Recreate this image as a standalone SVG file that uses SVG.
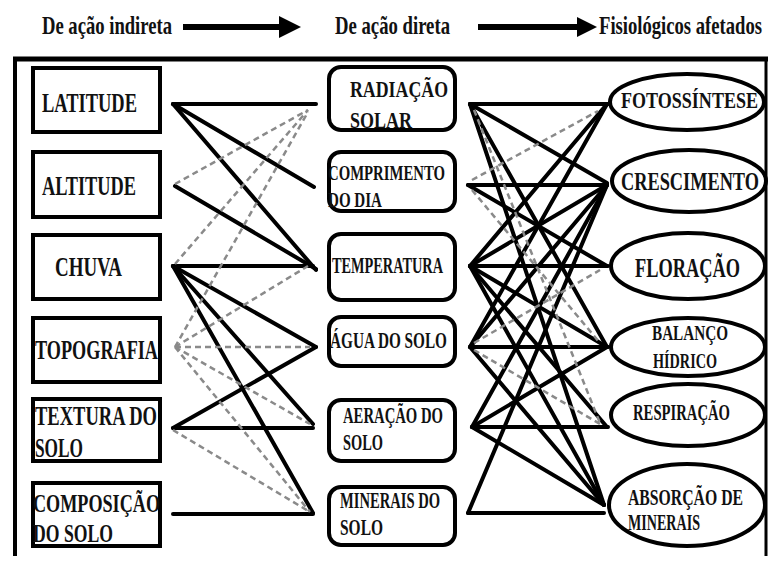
<svg xmlns="http://www.w3.org/2000/svg" width="770" height="561" viewBox="0 0 770 561" font-family="Liberation Serif, Times New Roman, DejaVu Serif, serif" font-weight="bold">
<style>
text{fill:#111}
.box{fill:#fff;stroke:#000;stroke-width:4}
.ell{fill:#fff;stroke:#000;stroke-width:4}
.s{stroke:#000;stroke-width:4;fill:none;stroke-linecap:round}
.d{stroke:#8a8a8a;stroke-width:2.5;fill:none;stroke-dasharray:6 4}
.hdr{font-size:25px}
.l{font-size:28px}
.m{font-size:23px}
.r{font-size:25px}
</style>
<rect width="770" height="561" fill="#fff"/>
<g id="header">
<text class="hdr" x="42" y="34" textLength="130" lengthAdjust="spacingAndGlyphs">De ação indireta</text>
<line x1="183" y1="27" x2="282" y2="27" stroke="#000" stroke-width="6"/>
<polygon points="279,16 301,27 279,38" fill="#000"/>
<text class="hdr" x="335" y="34" textLength="115" lengthAdjust="spacingAndGlyphs">De ação direta</text>
<line x1="478" y1="27" x2="580" y2="27" stroke="#000" stroke-width="6"/>
<polygon points="577,17 597,27 577,37" fill="#000"/>
<text class="hdr" x="599" y="34" textLength="163" lengthAdjust="spacingAndGlyphs">Fisiológicos afetados</text>
</g>
<g id="frame">
<line x1="13" y1="59" x2="768" y2="59" stroke="#000" stroke-width="5"/>
<line x1="15" y1="57" x2="15" y2="556" stroke="#000" stroke-width="4"/>
<line x1="766" y1="57" x2="766" y2="556" stroke="#000" stroke-width="3"/>
</g>
<g id="connectors">
<g id="left-solid">
<line class="s" x1="173" y1="104" x2="316" y2="104"/>
<line class="s" x1="173" y1="104" x2="314" y2="187"/>
<line class="s" x1="173" y1="104" x2="316" y2="270"/>
<line class="s" x1="175" y1="186" x2="316" y2="269"/>
<line class="s" x1="173" y1="266" x2="313" y2="266"/>
<line class="s" x1="173" y1="266" x2="316" y2="347"/>
<line class="s" x1="173" y1="266" x2="313" y2="424"/>
<line class="s" x1="173" y1="266" x2="313" y2="513"/>
<line class="s" x1="173" y1="428" x2="316" y2="347"/>
<line class="s" x1="173" y1="428" x2="313" y2="428"/>
<line class="s" x1="173" y1="514" x2="313" y2="514"/>
</g>
<g id="left-dashed">
<line class="d" x1="175" y1="184" x2="308" y2="110"/>
<line class="d" x1="175" y1="264" x2="308" y2="110"/>
<line class="d" x1="175" y1="347" x2="308" y2="112"/>
<line class="d" x1="175" y1="347" x2="308" y2="266"/>
<line class="d" x1="175" y1="347" x2="310" y2="347"/>
<line class="d" x1="175" y1="347" x2="310" y2="424"/>
<line class="d" x1="175" y1="347" x2="310" y2="512"/>
<line class="d" x1="173" y1="430" x2="310" y2="512"/>
</g>
<g id="right-solid">
<line class="s" x1="470" y1="104" x2="608" y2="104"/>
<line class="s" x1="470" y1="104" x2="607" y2="183"/>
<line class="s" x1="470" y1="104" x2="607" y2="347"/>
<line class="s" x1="470" y1="104" x2="604" y2="505"/>
<line class="s" x1="468" y1="185" x2="607" y2="185"/>
<line class="s" x1="468" y1="185" x2="607" y2="266"/>
<line class="s" x1="470" y1="266" x2="607" y2="104"/>
<line class="s" x1="470" y1="266" x2="607" y2="185"/>
<line class="s" x1="470" y1="266" x2="608" y2="266"/>
<line class="s" x1="470" y1="266" x2="607" y2="347"/>
<line class="s" x1="470" y1="266" x2="607" y2="427"/>
<line class="s" x1="470" y1="266" x2="604" y2="505"/>
<line class="s" x1="470" y1="347" x2="607" y2="104"/>
<line class="s" x1="470" y1="347" x2="607" y2="185"/>
<line class="s" x1="470" y1="347" x2="608" y2="347"/>
<line class="s" x1="470" y1="347" x2="604" y2="505"/>
<line class="s" x1="472" y1="427" x2="608" y2="427"/>
<line class="s" x1="472" y1="427" x2="604" y2="505"/>
<line class="s" x1="472" y1="427" x2="607" y2="347"/>
<line class="s" x1="472" y1="427" x2="607" y2="185"/>
<line class="s" x1="468" y1="513" x2="604" y2="513"/>
<line class="s" x1="468" y1="513" x2="607" y2="185"/>
</g>
<g id="right-dashed">
<line class="d" x1="472" y1="180" x2="598" y2="111"/>
<line class="d" x1="472" y1="190" x2="600" y2="343"/>
<line class="d" x1="474" y1="110" x2="600" y2="423"/>
<line class="d" x1="474" y1="343" x2="600" y2="270"/>
<line class="d" x1="474" y1="350" x2="600" y2="424"/>
</g>
</g>
<g id="n-latitude"><rect class="box" x="33" y="68" width="127" height="64"/><text class="l" x="42" y="112" textLength="95" lengthAdjust="spacingAndGlyphs">LATITUDE</text></g>
<g id="n-altitude"><rect class="box" x="33" y="152" width="127" height="65"/><text class="l" x="42" y="195" textLength="94" lengthAdjust="spacingAndGlyphs">ALTITUDE</text></g>
<g id="n-chuva"><rect class="box" x="33" y="235" width="127" height="64"/><text class="l" x="55" y="276" textLength="67" lengthAdjust="spacingAndGlyphs">CHUVA</text></g>
<g id="n-topografia"><rect class="box" x="33" y="318" width="127" height="64"/><text class="l" x="35" y="359" textLength="123" lengthAdjust="spacingAndGlyphs">TOPOGRAFIA</text></g>
<g id="n-textura"><rect class="box" x="33" y="399" width="127" height="62"/><text class="l" x="35" y="425" textLength="122" lengthAdjust="spacingAndGlyphs">TEXTURA DO</text><text class="l" x="35" y="457" textLength="48" lengthAdjust="spacingAndGlyphs">SOLO</text></g>
<g id="n-composicao"><rect class="box" x="33" y="483" width="127" height="63"/><text class="l" x="33" y="512" textLength="127" lengthAdjust="spacingAndGlyphs" style="font-size:25px">COMPOSIÇÃO</text><text class="l" x="33" y="542" textLength="80" lengthAdjust="spacingAndGlyphs" style="font-size:25px">DO SOLO</text></g>
<g id="n-radiacao"><rect class="box" x="329" y="67" width="126" height="63" rx="12"/><text class="m" x="350" y="97" textLength="98" lengthAdjust="spacingAndGlyphs">RADIAÇÃO</text><text class="m" x="350" y="128" textLength="62" lengthAdjust="spacingAndGlyphs">SOLAR</text></g>
<g id="n-comprimento"><rect class="box" x="329" y="152" width="126" height="59" rx="12"/><text class="m" x="328" y="180" textLength="117" lengthAdjust="spacingAndGlyphs" style="font-size:21px">COMPRIMENTO</text><text class="m" x="328" y="207" textLength="54" lengthAdjust="spacingAndGlyphs" style="font-size:21px">DO DIA</text></g>
<g id="n-temperatura"><rect class="box" x="329" y="234" width="126" height="66" rx="12"/><text class="m" x="332" y="273" textLength="111" lengthAdjust="spacingAndGlyphs">TEMPERATURA</text></g>
<g id="n-agua"><rect class="box" x="329" y="317" width="126" height="49" rx="12"/><text class="m" x="330" y="348" textLength="117" lengthAdjust="spacingAndGlyphs">ÁGUA DO SOLO</text></g>
<g id="n-aeracao"><rect class="box" x="329" y="400" width="126" height="61" rx="12"/><text class="m" x="343" y="423" textLength="100" lengthAdjust="spacingAndGlyphs">AERAÇÃO DO</text><text class="m" x="343" y="450" textLength="40" lengthAdjust="spacingAndGlyphs">SOLO</text></g>
<g id="n-minerais"><rect class="box" x="329" y="487" width="126" height="58" rx="12"/><text class="m" x="340" y="508" textLength="100" lengthAdjust="spacingAndGlyphs">MINERAIS DO</text><text class="m" x="340" y="535" textLength="43" lengthAdjust="spacingAndGlyphs">SOLO</text></g>
<g id="n-fotossintese"><ellipse class="ell" cx="687" cy="102" rx="77" ry="28"/><text class="r" x="621" y="108" textLength="137" lengthAdjust="spacingAndGlyphs" style="font-size:23px">FOTOSSÍNTESE</text></g>
<g id="n-crescimento"><ellipse class="ell" cx="689" cy="181" rx="77" ry="31"/><text class="r" x="621" y="190" textLength="138" lengthAdjust="spacingAndGlyphs" style="font-size:26px">CRESCIMENTO</text></g>
<g id="n-floracao"><ellipse class="ell" cx="688" cy="266" rx="77" ry="33"/><text class="r" x="635" y="277" textLength="105" lengthAdjust="spacingAndGlyphs" style="font-size:28px">FLORAÇÃO</text></g>
<g id="n-balanco"><ellipse class="ell" cx="688" cy="347" rx="77" ry="29"/><text class="r" x="652" y="340" textLength="76" lengthAdjust="spacingAndGlyphs" style="font-size:22px">BALANÇO</text><text class="r" x="653" y="368" textLength="64" lengthAdjust="spacingAndGlyphs" style="font-size:22px">HÍDRICO</text></g>
<g id="n-respiracao"><ellipse class="ell" cx="688" cy="415" rx="77" ry="31"/><text class="r" x="633" y="420" textLength="97" lengthAdjust="spacingAndGlyphs" style="font-size:23px">RESPIRAÇÃO</text></g>
<g id="n-absorcao"><ellipse class="ell" cx="687" cy="505" rx="78" ry="41"/><text class="r" x="628" y="505" textLength="115" lengthAdjust="spacingAndGlyphs" style="font-size:24px">ABSORÇÃO DE</text><text class="r" x="628" y="530" textLength="72" lengthAdjust="spacingAndGlyphs" style="font-size:24px">MINERAIS</text></g>
</svg>
